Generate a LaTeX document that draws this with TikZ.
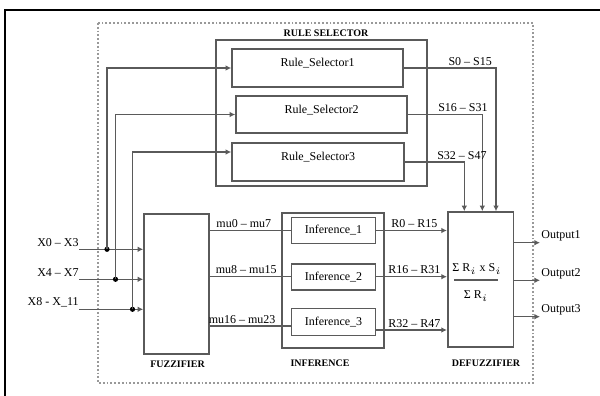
\documentclass[tikz,border=0pt]{standalone}
\usepackage{fontspec}
\setmainfont{Liberation Serif}
\usetikzlibrary{arrows.meta,positioning,calc}
\definecolor{LineGray}{RGB}{90,90,90}

\begin{document}
\begin{tikzpicture}[
  x=0.5pt,
  y=-0.5pt,
  group/.style={
    rectangle,
    draw=LineGray,
    line width=0.8pt,
    inner sep=0pt
  },
  unit/.style={
    rectangle,
    draw=LineGray,
    line width=0.8pt,
    inner sep=0pt,
    font=\fontsize{6}{7}\selectfont
  },
  seltext/.style={label={[lbl, anchor=north, yshift=-3.6pt]north:#1}},
  title/.style={font=\fontsize{5}{6}\selectfont\bfseries, inner sep=0pt},
  lbl/.style={font=\fontsize{6}{7}\selectfont, inner sep=1pt},
  tap/.style={circle, fill=black, inner sep=0pt, minimum size=2.6pt},
  arrow/.style={-{Latex[length=2.8pt,width=2.8pt]}, draw=LineGray, line width=0.7pt}
]
\useasboundingbox (0,0) rectangle (600,396);
\fill[white] (0,0) rectangle (600,396);

% frame and system border
\draw[line width=1pt] (5,396) -- (5,10) -- (600,10);
\draw[black!40, line width=0.9pt, densely dotted] (98,23) rectangle (533,383);

% Rule selector group
\node[group, minimum width=105.5pt, minimum height=73pt] (selgroup) at (321.5,113) {};
\node[title] (seltitle) at (326,33) {RULE SELECTOR};
\node[unit, minimum width=85.5pt, minimum height=19pt, seltext=Rule\_Selector1] (rs1) at (317.5,68) {};
\node[unit, minimum width=85.5pt, minimum height=18.5pt, seltext=Rule\_Selector2] (rs2) at (321.5,114.5) {};
\node[unit, minimum width=86pt, minimum height=19pt, seltext=Rule\_Selector3] (rs3) at (318,162) {};

% Fuzzifier
\node[group, minimum width=32.5pt, minimum height=70pt] (fuzz) at (176.5,284) {};
\node[title] (fuzztitle) at (177.5,364) {FUZZIFIER};

% Inference group
\node[group, minimum width=51pt, minimum height=67.5pt] (infgroup) at (333,280.5) {};
\node[title] (inftitle) at (320,363) {INFERENCE};
\node[unit, minimum width=42pt, minimum height=13pt] (inf1) at (333.5,230.5) {Inference\_1};
\node[unit, minimum width=42pt, minimum height=13pt] (inf2) at (333.5,276.7) {Inference\_2};
\node[unit, minimum width=42pt, minimum height=13.5pt] (inf3) at (333.5,322) {Inference\_3};

% Defuzzifier
\node[group, minimum width=32.8pt, minimum height=67.5pt] (defuzz) at (480.5,279.5) {};
\node[title] (deftitle) at (486,363) {DEFUZZIFIER};
\node[lbl] (num) at (477,269) {Σ R$_i$ x S$_i$};
\node[inner sep=0pt] (fracbar) at (476,280) {\color{LineGray}\rule{22pt}{0.7pt}};
\node[lbl] (den) at (476,296) {Σ R$_i$};

% inputs
\coordinate (in1) at (79,249.3);
\coordinate (in2) at (79,279.3);
\coordinate (in3) at (79,309.3);
\node[lbl, anchor=south east] (x1) at ([xshift=1pt]in1) {X0 – X3};
\node[lbl, anchor=south east] (x2) at ([xshift=1pt]in2) {X4 – X7};
\node[lbl, anchor=south east] (x3) at ([xshift=1pt]in3) {X8 - X\_11};
\draw[arrow] (in1) -- (in1 -| fuzz.west);
\draw[arrow] (in2) -- (in2 -| fuzz.west);
\draw[arrow] (in3) -- (in3 -| fuzz.west);

\node[tap] (j1) at (107,249.3) {};
\node[tap] (j2) at (115.5,279.3) {};
\node[tap] (j3) at (132.5,309.3) {};
\draw[arrow] (j1.center) |- (rs1.west);
\draw[arrow] (j2.center) |- (rs2.west);
\draw[arrow] (j3.center) |- ([yshift=5pt]rs3.west);

% fuzzifier -> inference
\draw[arrow, -] (inf1.west -| fuzz.east) -- node[lbl, pos=0.42, above] {mu0 – mu7} (inf1.west);
\draw[arrow, -] (inf2.west -| fuzz.east) -- node[lbl, pos=0.45, above] {mu8 – mu15} (inf2.west);
\draw[arrow, -] ([yshift=-2pt]inf3.west -| fuzz.east) -- node[lbl, pos=0.4, above] {mu16 – mu23} ([yshift=-2pt]inf3.west);

% inference -> defuzzifier
\draw[arrow] (inf1.east) -- node[lbl, pos=0.54, above] {R0 – R15} (inf1.east -| defuzz.west);
\draw[arrow] (inf2.east) -- node[lbl, pos=0.54, above] {R16 – R31} (inf2.east -| defuzz.west);
\draw[arrow] ([yshift=-4pt]inf3.east) -- node[lbl, pos=0.54, above] {R32 – R47} ([yshift=-4pt]inf3.east -| defuzz.west);

% rule selectors -> defuzzifier
\coordinate (s1in) at ([xshift=7.75pt]defuzz.north);
\coordinate (s2in) at ([xshift=0.9pt]defuzz.north);
\coordinate (s3in) at ([xshift=-8.1pt]defuzz.north);
\draw[arrow] (rs1.east) -| node[lbl, pos=0.36, above] {S0 – S15} (s1in);
\draw[arrow] (rs2.east) -| node[lbl, pos=0.37, above] {S16 – S31} (s2in);
\draw[arrow] (rs3.east) -| node[lbl, pos=0.48, above] {S32 – S47} (s3in);

% outputs
\coordinate (out1) at (540,242.7);
\coordinate (out2) at (540,280.3);
\coordinate (out3) at (540,316.7);
\draw[arrow] (out1 -| defuzz.east) -- (out1);
\draw[arrow] (out2 -| defuzz.east) -- (out2);
\draw[arrow] (out3 -| defuzz.east) -- (out3);
\node[lbl, anchor=south west, inner sep=0.5pt] (o1) at (out1) {Output1};
\node[lbl, anchor=south west, inner sep=0.5pt] (o2) at (out2) {Output2};
\node[lbl, anchor=south west, inner sep=0.5pt] (o3) at (out3) {Output3};
\end{tikzpicture}
\end{document}
